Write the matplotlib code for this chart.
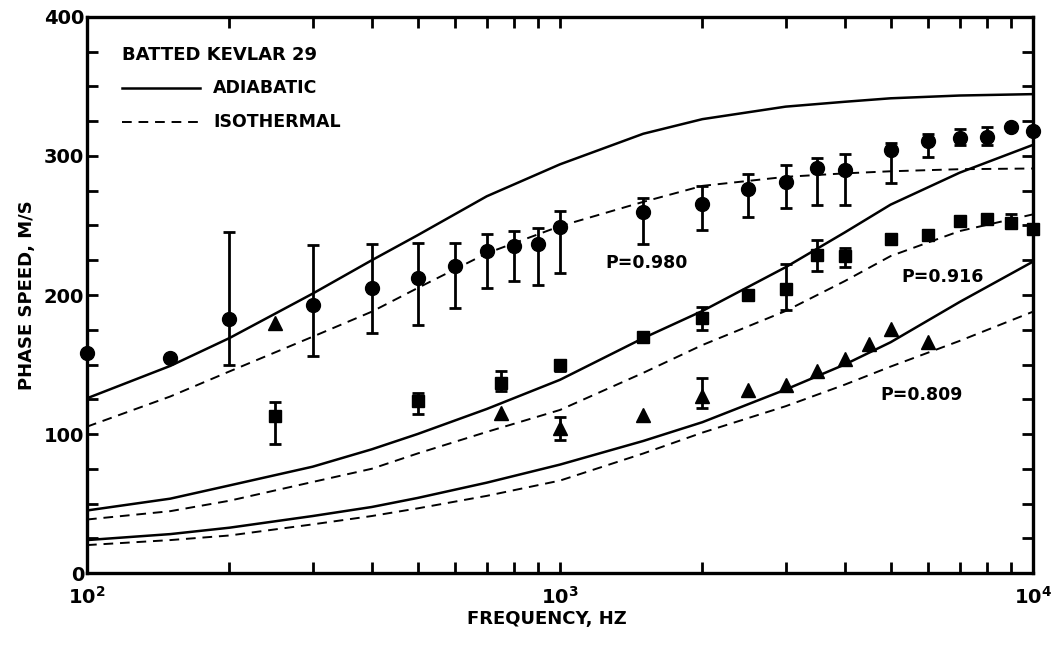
import numpy as np
import matplotlib
matplotlib.use('Agg')
import matplotlib.pyplot as plt
from matplotlib.ticker import LogLocator, MultipleLocator, NullFormatter

plt.rcParams['font.family'] = 'DejaVu Sans'
plt.rcParams['font.weight'] = 'bold'
plt.rcParams['mathtext.default'] = 'bf'

# courbes theoriques
f_curve = [100, 150, 200, 300, 400, 500, 700, 1000, 1500, 2000, 3000, 4000, 5000, 7000, 10000]
adia_980 = [125.7, 149, 169, 201, 225, 243, 271, 294, 316, 326.5, 335.5, 339, 341.5, 343.5, 344.5]
iso_980 = [105.3, 127, 145, 170, 188, 205, 230, 249.5, 267, 278.5, 285, 287.5, 289, 290.5, 291]
adia_916 = [45, 53.5, 63, 76.5, 89, 100, 118, 139, 169, 188.5, 220, 245, 265, 288, 308]
iso_916 = [38.5, 44.5, 52, 65.5, 75, 86, 101.5, 117.3, 144, 164, 188.5, 210, 228, 246, 258]
adia_809 = [23.7, 28, 32.6, 41, 47.5, 54, 65, 78, 95, 108.5, 132, 150, 166, 195, 224]
iso_809 = [20.1, 23.7, 27, 35, 41, 46.5, 55.5, 66.5, 86, 101, 120, 135.5, 148.5, 167, 188]

# mesures P=0.980 (cercles)
circ_f = [100, 150, 200, 300, 400, 500, 600, 700, 800, 900, 1000, 1500, 2000, 2500,
          3000, 3500, 4000, 5000, 6000, 7000, 8000, 9000, 10000]
circ_v = [158, 155, 183, 193, 205, 212, 221, 232, 235, 237, 249, 260, 265.5, 276,
          281.5, 291.5, 290, 304, 311, 313, 313.5, 321, 318]
circ_lo = [0, 0, 33, 37, 32.5, 33.5, 30, 27, 25, 29.5, 33.5, 23.5, 18.7, 19.7,
           19, 27, 25.5, 23.5, 11.5, 5, 5.5, 0, 0]
circ_hi = [0, 0, 62, 43, 32, 25.5, 16.5, 12, 11, 11.5, 11.5, 9.5, 13, 11,
           12, 7, 11.5, 5, 5, 6.5, 7.5, 0, 0]

# mesures P=0.916 (carres)
sq_f = [250, 500, 750, 1000, 1500, 2000, 2500, 3000, 3500, 4000, 5000, 6000, 7000, 8000, 9000, 10000]
sq_v = [113, 123.5, 137, 149.5, 170, 183.5, 200, 204.5, 228.5, 228, 240, 243, 253.5, 255, 252, 247.5]
sq_lo = [20, 9, 6, 4, 0, 9, 0, 15.5, 11, 7.5, 0, 0, 0, 0, 0, 3]
sq_hi = [10, 6, 8.5, 4, 0, 8, 0, 18, 11, 5.5, 0, 0, 0, 0, 6, 3]

# mesures P=0.809 (triangles)
tri_f = [250, 750, 1000, 1500, 2000, 2500, 3000, 3500, 4000, 4500, 5000, 6000]
tri_v = [180, 115, 104, 114, 127, 132, 135.5, 145.5, 154, 164.5, 175.5, 166.5]
tri_lo = [0, 0, 8.5, 0, 8, 0, 0, 0, 0, 0, 0, 0]
tri_hi = [0, 0, 8, 0, 13, 0, 0, 0, 0, 0, 0, 0]

fig = plt.figure(figsize=(10.52, 6.48), dpi=100)
ax = fig.add_axes([0.0827, 0.1157, 0.8992, 0.8581])

for sol, iso in [(adia_980, iso_980), (adia_916, iso_916), (adia_809, iso_809)]:
    ax.plot(f_curve, sol, color='black', lw=1.8)
    ax.plot(f_curve, iso, color='black', lw=1.4, dashes=(5, 3.5))


def points(fr, val, lo, hi, marker, ms):
    fr, val, lo, hi = map(np.array, (fr, val, lo, hi))
    ax.plot(fr, val, linestyle='none', marker=marker, ms=ms, color='black',
            zorder=4, clip_on=False)
    m = (lo > 0) | (hi > 0)
    ax.errorbar(fr[m], val[m], yerr=[lo[m], hi[m]], fmt='none', ecolor='black',
                elinewidth=2, capsize=4, capthick=2, zorder=3)


points(circ_f, circ_v, circ_lo, circ_hi, 'o', 10)
points(sq_f, sq_v, sq_lo, sq_hi, 's', 8.5)
points(tri_f, tri_v, tri_lo, tri_hi, '^', 10.5)

ax.set_xscale('log')
ax.set_xlim(100, 10000)
ax.set_ylim(0, 400)
ax.set_yticks([0, 100, 200, 300, 400])
ax.yaxis.set_minor_locator(MultipleLocator(25))
ax.xaxis.set_minor_locator(LogLocator(base=10, subs=np.arange(2, 10)))
ax.xaxis.set_minor_formatter(NullFormatter())
ax.set_xticks([100, 1000, 10000])
ax.set_xticklabels([r'$10^{2}$', r'$10^{3}$', r'$10^{4}$'])

ax.tick_params(which='both', direction='in', top=True, right=True,
               length=8, width=2, labelsize=14)
ax.tick_params(axis='x', which='major', pad=9)
ax.tick_params(axis='y', which='major', pad=2)
for s in ax.spines.values():
    s.set_linewidth(2.4)

ax.set_xlabel('FREQUENCY, HZ', fontsize=13, fontweight='bold', labelpad=6)
ax.xaxis.set_label_coords(0.486, -0.067)
ax.set_ylabel('PHASE SPEED, M/S', fontsize=13, fontweight='bold', labelpad=6)

# legende a la main
ax.text(0.0367, 0.932, 'BATTED KEVLAR 29', transform=ax.transAxes, fontsize=13,
        fontweight='bold', va='center', ha='left')
ax.plot([0.0367, 0.1195], [0.872, 0.872], transform=ax.transAxes, color='black', lw=1.8)
ax.text(0.1332, 0.872, 'ADIABATIC', transform=ax.transAxes, fontsize=12.5,
        fontweight='bold', va='center', ha='left')
ax.plot([0.0367, 0.1195], [0.811, 0.811], transform=ax.transAxes, color='black',
        lw=1.4, dashes=(5, 3.5))
ax.text(0.1332, 0.811, 'ISOTHERMAL', transform=ax.transAxes, fontsize=12.5,
        fontweight='bold', va='center', ha='left')

ax.text(1245, 223, 'P=0.980', fontsize=12.5, fontweight='bold', va='center', ha='left')
ax.text(5272, 213, 'P=0.916', fontsize=12.5, fontweight='bold', va='center', ha='left')
ax.text(4753, 128, 'P=0.809', fontsize=12.5, fontweight='bold', va='center', ha='left')

plt.savefig('out.png', dpi=100)
